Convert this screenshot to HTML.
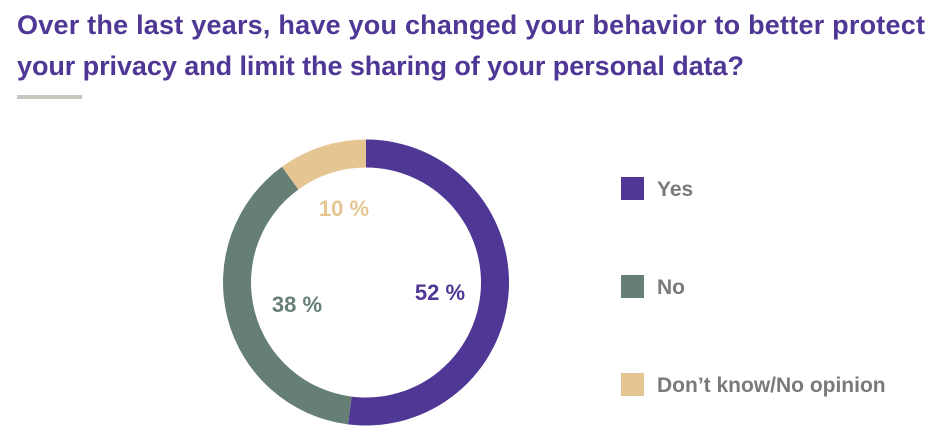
<!DOCTYPE html>
<html><head><meta charset="utf-8"><style>
body{margin:0;background:#fff;}
svg{display:block;font-family:"Liberation Sans Narrow","Liberation Sans",sans-serif;}
</style></head><body>
<svg id="chart" width="951" height="444" viewBox="0 0 951 444">
<text x="17" y="34" font-size="27" font-weight="bold" fill="#4f3795" textLength="908" lengthAdjust="spacing">Over the last years, have you changed your behavior to better protect</text>
<text x="17" y="75" font-size="27" font-weight="bold" fill="#4f3795" textLength="727" lengthAdjust="spacing">your privacy and limit the sharing of your personal data?</text>
<rect x="17" y="95" width="65" height="4" fill="#c8c6c0"/>
<g id="slices"></g>
<g id="legend"></g>
</svg>
<script>
const categories=["Yes","No","Don’t know/No opinion"];
const values=[52,38,10];
const labels=["52 %","38 %","10 %"];
const colors=["#4f3795","#667f75","#e5c692"];
const labelPos=[[440,300],[297,312],[344,216]];
const cx=366,cy=282.5,R=143,r=115;
const ns="http://www.w3.org/2000/svg";
const g=document.getElementById('slices'),lg=document.getElementById('legend');
const total=values.reduce((a,b)=>a+b,0);
let a0=0;
function pt(rad,a){return [cx+rad*Math.sin(a),cy-rad*Math.cos(a)];}
values.forEach((v,i)=>{
  const a1=a0+v/total*2*Math.PI,large=(a1-a0)>Math.PI?1:0;
  const [x1,y1]=pt(R,a0),[x2,y2]=pt(R,a1),[x3,y3]=pt(r,a1),[x4,y4]=pt(r,a0);
  const p=document.createElementNS(ns,'path');
  p.setAttribute('d',`M${x1},${y1}A${R},${R} 0 ${large} 1 ${x2},${y2}L${x3},${y3}A${r},${r} 0 ${large} 0 ${x4},${y4}Z`);
  p.setAttribute('fill',colors[i]);
  
  
  g.appendChild(p);
  const t=document.createElementNS(ns,'text');
  t.setAttribute('x',labelPos[i][0]);t.setAttribute('y',labelPos[i][1]);
  t.setAttribute('text-anchor','middle');t.setAttribute('font-size','22');t.setAttribute('font-weight','bold');
  t.setAttribute('fill',colors[i]);t.textContent=labels[i];
  
  
  g.appendChild(t);
  a0=a1;
  const y=177+i*98;
  const s=document.createElementNS(ns,'rect');
  s.setAttribute('x',621);s.setAttribute('y',y);s.setAttribute('width',23);s.setAttribute('height',23);s.setAttribute('fill',colors[i]);
  
  
  lg.appendChild(s);
  const lt=document.createElementNS(ns,'text');
  lt.setAttribute('x',657);lt.setAttribute('y',y+19);lt.setAttribute('font-size','21');lt.setAttribute('font-weight','bold');lt.setAttribute('fill','#7a7a7a');
  lt.textContent=categories[i];
  
  
  lg.appendChild(lt);
});
</script>
</body></html>
